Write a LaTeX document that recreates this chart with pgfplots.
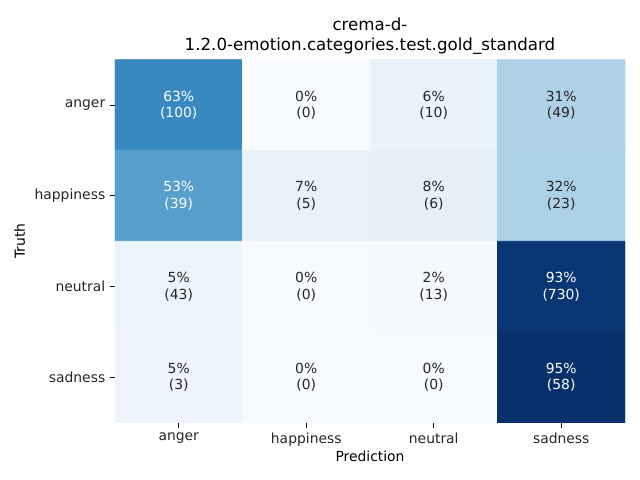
\documentclass[border=0pt]{standalone}
\usepackage{fontspec}
\setmainfont{DejaVu Sans}
\usepackage{pgfplots}
\pgfplotsset{compat=1.18}
\definecolor{txtdark}{RGB}{38,38,38}
\pgfplotsset{colormap={blues}{rgb255=(247,251,255) rgb255=(222,235,247) rgb255=(198,219,239) rgb255=(158,202,225) rgb255=(107,174,214) rgb255=(66,146,198) rgb255=(33,113,181) rgb255=(8,81,156) rgb255=(8,48,107)}}
\begin{document}
\begin{tikzpicture}
\path[use as bounding box] (0,0) rectangle (460.8pt,345.6pt);
\begin{axis}[
  at={(82.8pt,41.2pt)}, anchor=south west,
  scale only axis, width=367.2pt, height=261.4pt,
  xmin=-0.5, xmax=3.5, ymin=-0.5, ymax=3.5,
  y dir=reverse,
  colormap name=blues,
  point meta min=0, point meta max=95.1,
  axis line style={draw=none},
  xtick={0,1,2,3}, ytick={0,1,2,3},
  xticklabels={anger,happiness,neutral,sadness},
  yticklabels={anger,happiness,neutral,sadness},
  tick align=outside, major tick length=3.5pt,
  tick style={black, line width=0.8pt},
  xtick pos=bottom, ytick pos=left,
  ticklabel style={font=\fontsize{10}{12}\selectfont, text=txtdark},
  xlabel={Prediction}, ylabel={Truth},
  label style={font=\fontsize{10}{12}\selectfont, text=black},
  xlabel style={yshift=3pt},
  title={crema-d-\\1.2.0-emotion.categories.test.gold\_standard},
  title style={align=center, font=\fontsize{12}{15}\selectfont, yshift=-6pt},
  nodes near coords align=center,
]
\addplot[matrix plot*, mesh/cols=4, point meta=explicit] coordinates {
(0,0)[62.9] (1,0)[0] (2,0)[6.3] (3,0)[30.8]

(0,1)[53.4] (1,1)[6.8] (2,1)[8.2] (3,1)[31.5]

(0,2)[5.5] (1,2)[0] (2,2)[1.65] (3,2)[92.9]

(0,3)[4.9] (1,3)[0] (2,3)[0] (3,3)[95.1]
};
\addplot[only marks, mark=none, nodes near coords, point meta=explicit symbolic,
  every node near coord/.append style={anchor=center, align=center, text=white, font=\fontsize{10}{12}\selectfont}] coordinates {
(0,0)[{63\%\\(100)}] (0,1)[{53\%\\(39)}] (3,2)[{93\%\\(730)}] (3,3)[{95\%\\(58)}]
};
\addplot[only marks, mark=none, nodes near coords, point meta=explicit symbolic,
  every node near coord/.append style={anchor=center, align=center, text=txtdark, font=\fontsize{10}{12}\selectfont}] coordinates {
(1,0)[{0\%\\(0)}] (2,0)[{6\%\\(10)}] (3,0)[{31\%\\(49)}]
(1,1)[{7\%\\(5)}] (2,1)[{8\%\\(6)}] (3,1)[{32\%\\(23)}]
(0,2)[{5\%\\(43)}] (1,2)[{0\%\\(0)}] (2,2)[{2\%\\(13)}]
(0,3)[{5\%\\(3)}] (1,3)[{0\%\\(0)}] (2,3)[{0\%\\(0)}]
};
\end{axis}
\end{tikzpicture}
\end{document}
